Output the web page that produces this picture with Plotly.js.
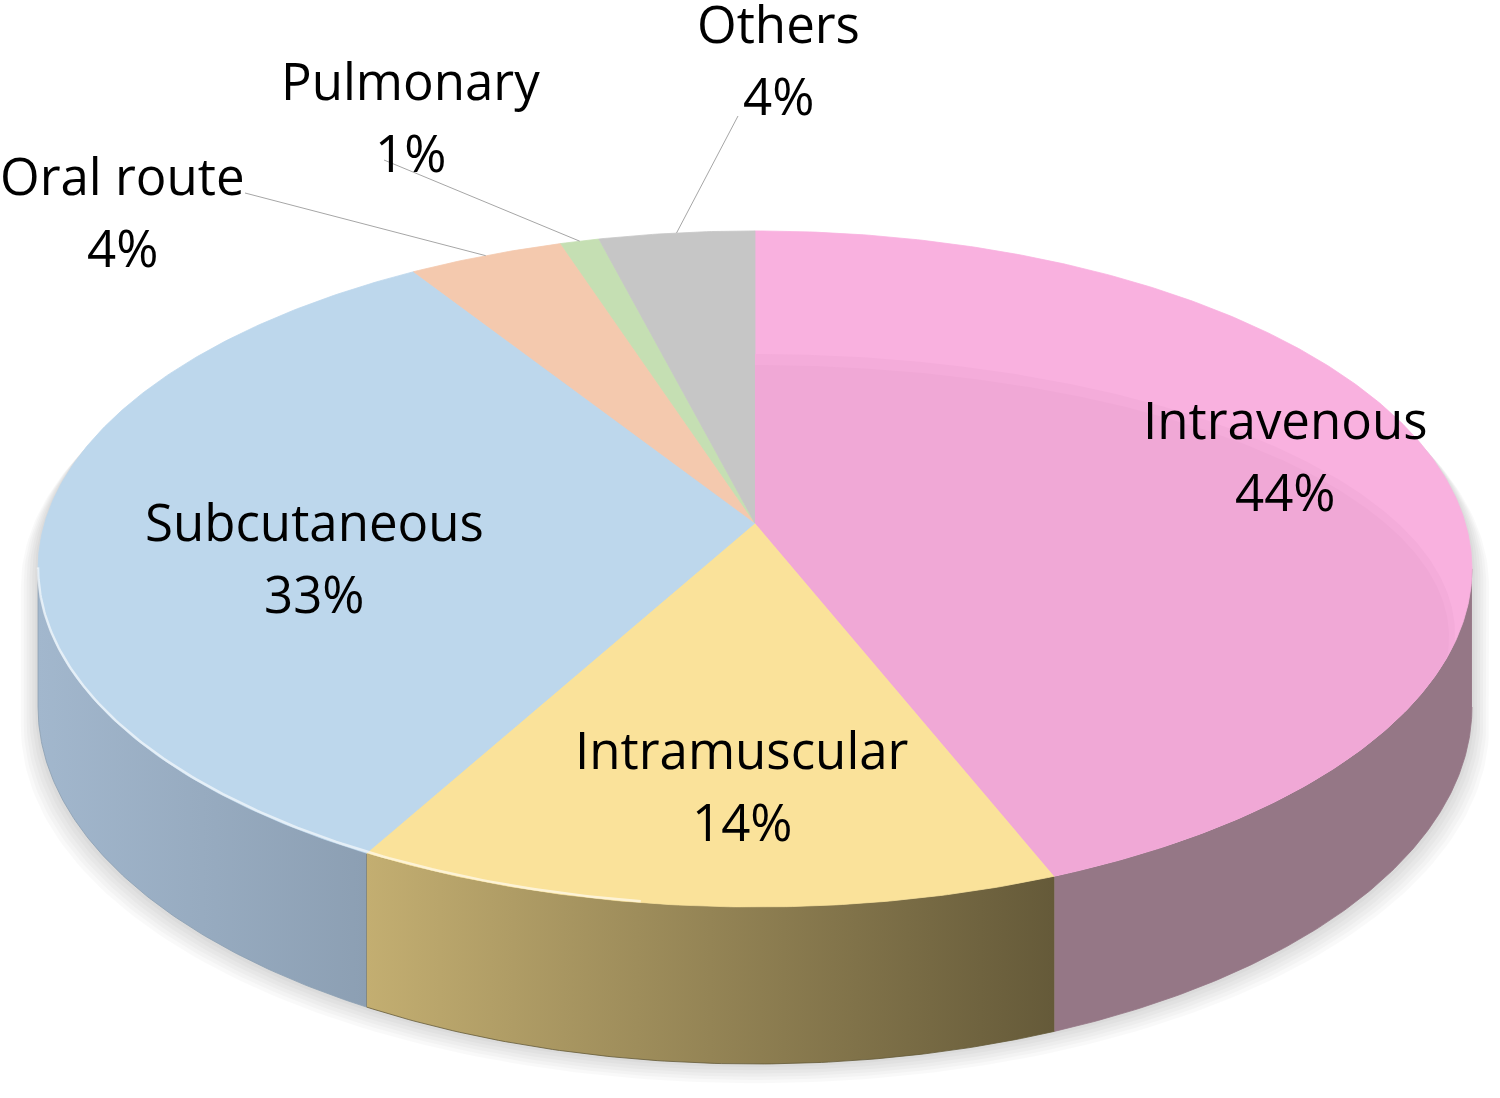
<!DOCTYPE html>
<html>
<head>
<meta charset="utf-8">
<script src="https://cdn.plot.ly/plotly-3.0.1.min.js"></script>
<style>html,body{margin:0;padding:0;background:#fff;}#chart{width:1500px;height:1098px;}</style>
</head>
<body>
<div id="chart"></div>
<script>
// ---- data ----
const categories = ['Intravenous', 'Intramuscular', 'Subcutaneous', 'Oral route', 'Pulmonary', 'Others'];
const values = [44, 14, 33, 4, 1, 4];
const topColors = ['#F9B1DF', '#FAE29A', '#BDD7EC', '#F4C9AE', '#C5DFB3', '#C6C6C6'];
const sideLeft  = ['#957786', '#C3AE71', '#A2B7CD', '#D9A98C', '#A5BD93', '#A8A8A8'];
const sideRight = ['#957786', '#655A39', '#8C9FB3', '#B08870', '#86A075', '#8A8A8A'];

// ---- label layout (block centres, pixel space) ----
const labelPos = [[1285, 455], [742, 785], [314, 557], [122, 211], [410, 116], [778, 59]];
const leaderStart = [null, null, null, [245, 193], [384, 160], [738, 116]];

// ---- 3D projection of the pie disk ----
const PA = 0.136, PAX = 710.3, PBY = 331.8, CX = 755, CY = 523, TH = 135.6;
function proj(deg, r) {
  r = (r === undefined) ? 1 : r;
  const t = deg * Math.PI / 180;
  const u = r * Math.sin(t), v = -r * Math.cos(t);
  const w = 1 - PA * v;
  return [CX + PAX * u / w, CY + PBY * v / w, w];
}
function arc(d1, d2, step) {
  const pts = [];
  const n = Math.max(2, Math.ceil(Math.abs(d2 - d1) / (step || 0.5)));
  for (let i = 0; i <= n; i++) pts.push(d1 + (d2 - d1) * i / n);
  return pts;
}

const total = values.reduce((s, v) => s + v, 0);
const starts = [], ends = [];
let cum = 0;
values.forEach(v => { starts.push(360 * cum / total); cum += v; ends.push(360 * cum / total); });

const traces = [];
const SIL_R = 97.8, SIL_L = 262.2; // silhouette angles (cos = -PA)

// shadow
for (let k = 6; k >= 1; k--) {
  const xs = [], ys = [];
  arc(SIL_L, 360 + SIL_R, 1).forEach(d => { const p = proj(d); xs.push(CX + (p[0] - CX) * (1 + 0.004 * k)); ys.push(p[1] + 3 * k); });
  arc(SIL_R, SIL_L, 1).forEach(d => { const p = proj(d); xs.push(CX + (p[0] - CX) * (1 + 0.004 * k)); ys.push(p[1] + TH / p[2] + 3.2 * k); });
  traces.push({type: 'scatter', mode: 'lines', x: xs, y: ys, fill: 'toself', fillcolor: 'rgba(0,0,0,0.022)', line: {width: 0}, hoverinfo: 'skip'});
}

// side walls (visible front arc only)
categories.forEach((c, i) => {
  const d1 = Math.max(starts[i], SIL_R), d2 = Math.min(ends[i], SIL_L);
  if (d2 <= d1) return;
  const xs = [], ys = [];
  const a = arc(d1, d2);
  a.forEach(d => { const p = proj(d); xs.push(p[0]); ys.push(p[1]); });
  a.slice().reverse().forEach(d => { const p = proj(d); xs.push(p[0]); ys.push(p[1] + TH / p[2]); });
  traces.push({type: 'scatter', mode: 'lines', x: xs, y: ys, fill: 'toself',
    fillgradient: {type: 'horizontal', colorscale: [[0, sideLeft[i]], [1, sideRight[i]]]},
    line: {width: 0.8, color: sideRight[i]}, hoverinfo: 'skip', name: c + ' side'});
});

// top faces
categories.forEach((c, i) => {
  const xs = [CX], ys = [CY];
  arc(starts[i], ends[i]).forEach(d => { const p = proj(d); xs.push(p[0]); ys.push(p[1]); });
  xs.push(CX); ys.push(CY);
  traces.push({type: 'scatter', mode: 'lines', x: xs, y: ys, fill: 'toself', fillcolor: topColors[i],
    line: {width: 0.8, color: topColors[i]}, hoverinfo: 'skip', name: c});
});

// bevel: darker inner part of the top face (visible on the large slice)
function innerFace(i, color, erx, ery, ecy) {
  const xs = [CX], ys = [CY];
  arc(starts[i], ends[i]).forEach(d => {
    const p = proj(d);
    const dx = p[0] - CX, dy = p[1] - CY;
    const ox = 0, oy = (CY - ecy) / ery;
    const qa = (dx / erx) ** 2 + (dy / ery) ** 2;
    const qb = 2 * (ox * dx / erx + oy * dy / ery);
    const qc = ox * ox + oy * oy - 1;
    const t = (-qb + Math.sqrt(qb * qb - 4 * qa * qc)) / (2 * qa);
    const tt = Math.min(1, t);
    xs.push(CX + dx * tt); ys.push(CY + dy * tt);
  });
  xs.push(CX); ys.push(CY);
  traces.push({type: 'scatter', mode: 'lines', x: xs, y: ys, fill: 'toself', fillcolor: color,
    line: {width: 0}, hoverinfo: 'skip'});
}
innerFace(0, '#F4ACDA', 700, 280, 634);
innerFace(0, '#F0A8D6', 694, 272, 637);

// front rim highlight
(function () {
  const xs = [], ys = [];
  arc(188, SIL_L).forEach(d => { const p = proj(d); xs.push(p[0]); ys.push(p[1] - 1.5); });
  traces.push({type: 'scatter', mode: 'lines', x: xs, y: ys, line: {width: 2.5, color: 'rgba(255,255,255,0.6)'}, hoverinfo: 'skip'});
})();

// leader lines
categories.forEach((c, i) => {
  if (!leaderStart[i]) return;
  const p = proj((starts[i] + ends[i]) / 2);
  traces.push({type: 'scatter', mode: 'lines', x: [leaderStart[i][0], p[0]], y: [leaderStart[i][1], p[1]],
    line: {width: 1, color: '#A6A6A6'}, hoverinfo: 'skip'});
});

// labels
const annotations = [];
const fnt = {family: 'Open Sans, Noto Sans, sans-serif', size: 51, color: '#000000'};
categories.forEach((c, i) => {
  const pct = Math.round(100 * values[i] / total) + '%';
  annotations.push({x: labelPos[i][0], y: labelPos[i][1] - 36, xref: 'x', yref: 'y', text: c, showarrow: false, font: fnt, xanchor: 'center', yanchor: 'middle'});
  annotations.push({x: labelPos[i][0], y: labelPos[i][1] + 36, xref: 'x', yref: 'y', text: pct, showarrow: false, font: fnt, xanchor: 'center', yanchor: 'middle'});
});

const layout = {
  width: 1500, height: 1098,
  margin: {l: 0, r: 0, t: 0, b: 0},
  paper_bgcolor: '#ffffff', plot_bgcolor: '#ffffff',
  showlegend: false, hovermode: false,
  xaxis: {range: [0, 1500], visible: false, fixedrange: true},
  yaxis: {range: [1098, 0], visible: false, fixedrange: true},
  annotations: annotations
};
Plotly.newPlot('chart', traces, layout, {staticPlot: true, displayModeBar: false});
</script>
</body>
</html>
